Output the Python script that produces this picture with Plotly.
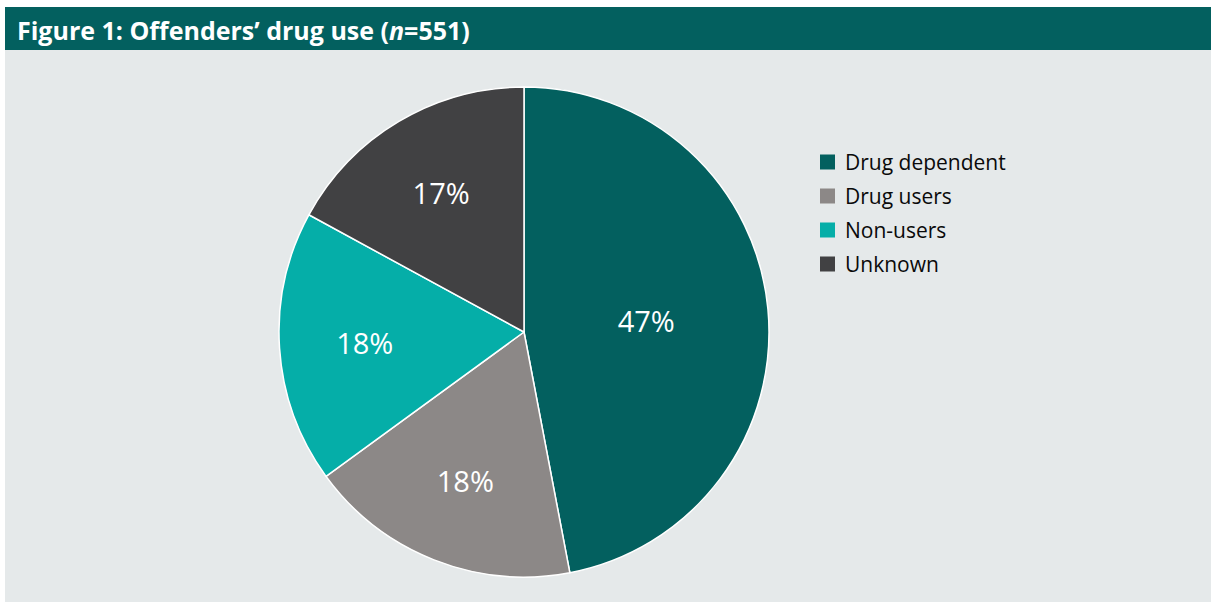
import plotly.graph_objects as go

categories = ["Drug dependent", "Drug users", "Non-users", "Unknown"]
counts = [259, 99, 99, 94]
colors = ["#03605f", "#8c8887", "#05aea8", "#414143"]
title_text = "Figure 1: Offenders’ drug use (<i>n</i>=551)"

W, H = 1211, 602
cx, cy, r = 524, 332, 245

fig = go.Figure(go.Pie(
    labels=categories,
    values=counts,
    sort=False,
    direction="clockwise",
    rotation=0,
    marker=dict(colors=colors, line=dict(color="white", width=1.5)),
    texttemplate="%{percent:.0%}",
    textposition="inside",
    insidetextorientation="horizontal",
    textfont=dict(color="white", size=29, family="Open Sans"),
    hoverinfo="label+percent",
    showlegend=False,
    domain=dict(x=[(cx - r) / W, (cx + r) / W], y=[1 - (cy + r) / H, 1 - (cy - r) / H]),
))

shapes = [
    dict(type="rect", xref="paper", yref="paper", x0=5 / W, x1=1, y0=0, y1=1 - 50 / H,
         fillcolor="#e5e9ea", line=dict(width=0), layer="below"),
    dict(type="rect", xref="paper", yref="paper", x0=5 / W, x1=1, y0=1 - 50 / H, y1=1 - 7 / H,
         fillcolor="#03605f", line=dict(width=0), layer="below"),
]
annotations = [
    dict(text="<b>" + title_text + "</b>", xref="paper", yref="paper",
         x=15 / W, y=1 - 30 / H, xanchor="left", yanchor="middle", showarrow=False,
         font=dict(size=25, color="white", family="Open Sans")),
]

# custom legend built from the category list
leg_x, leg_y0, leg_dy, sq = 820, 162, 34, 15
for i, (lab, col) in enumerate(zip(categories, colors)):
    yc = leg_y0 + i * leg_dy
    shapes.append(dict(type="rect", xref="paper", yref="paper",
                       x0=leg_x / W, x1=(leg_x + sq) / W,
                       y0=1 - (yc + sq / 2) / H, y1=1 - (yc - sq / 2) / H,
                       fillcolor=col, line=dict(width=0)))
    annotations.append(dict(text=lab, xref="paper", yref="paper",
                            x=(leg_x + 23) / W, y=1 - yc / H, xanchor="left", yanchor="middle",
                            showarrow=False,
                            font=dict(size=21, color="#0a0a0a", family="Open Sans")))

fig.update_layout(
    width=W, height=H,
    margin=dict(l=0, r=0, t=0, b=0),
    paper_bgcolor="white",
    plot_bgcolor="white",
    shapes=shapes,
    annotations=annotations,
)

fig.write_html("out.html",
               config={"displayModeBar": False},
               post_script="document.body.style.margin='0';document.body.style.overflow='hidden';")
